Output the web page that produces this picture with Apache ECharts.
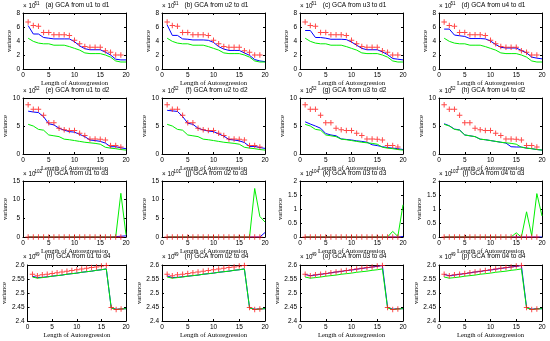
<!DOCTYPE html>
<html><head><meta charset="utf-8">
<script src="https://cdn.jsdelivr.net/npm/echarts@6/dist/echarts.min.js"></script>
<style>html,body{margin:0;padding:0;background:#fff}#c{width:550px;height:341px}</style>
</head><body><div id="c"></div>
<script>
// ---------- data ----------
const lags = [1,2,3,4,5,6,7,8,9,10,11,12,13,14,15,16,17,18,19,20];

const panelTitles = ['(a) GCA from u1 to d1','(b) GCA from u2 to d1','(c) GCA from u3 to d1','(d) GCA from u4 to d1',
  '(e) GCA from u1 to d2','(f) GCA from u2 to d2','(g) GCA from u3 to d2','(h) GCA from u4 to d2',
  '(i) GCA from u1 to d3','(j) GCA from u2 to d3','(k) GCA from u3 to d3','(l) GCA from u4 to d3',
  '(m) GCA from u1 to d4','(n) GCA from u2 to d4','(o) GCA from u3 to d4','(p) GCA from u4 to d4'];
const exponents = ['51','51','51','51','52','52','52','52','102','101','104','103','49','49','49','49'];
const yMins = [0,0,0,0, 0,0,0,0, 0,0,0,0, 2.4,2.4,2.4,2.4];
const yMaxs = [8,8,8,8, 10,10,10,10, 15,15,2,2, 2.6,2.6,2.6,2.6];
const yIntervals = [2,2,2,2, 5,5,5,5, 5,5,0.5,0.5, 0.05,0.05,0.05,0.05];

// row 1 (d1)
const redD1 = [6.7,6.2,6.1,5.2,5.2,4.9,4.9,4.9,4.8,4.1,3.6,3.2,3.1,3.1,3.1,2.6,2.4,2.0,2.0];
const greenD1 = [4.4,3.95,3.7,3.6,3.6,3.4,3.4,3.4,3.2,2.95,2.7,2.3,2.2,2.2,2.2,2.0,1.7,1.15,1.0,1.0];
const blueA = [6.2,5.0,5.0,4.5,4.4,4.3,4.3,4.3,4.3,3.9,3.3,2.9,2.75,2.75,2.75,2.4,2.0,1.4,1.3,1.3];
const blueB = [6.3,4.8,4.8,4.3,4.25,4.15,4.15,4.15,4.1,3.8,3.2,2.85,2.65,2.65,2.65,2.3,1.95,1.35,1.15,1.05];
const blueC = [5.5,5.5,4.5,4.5,4.4,4.25,4.25,4.25,4.2,3.85,3.4,2.95,2.75,2.75,2.75,2.45,2.05,1.5,1.4,1.3];
const blueD = [5.7,5.7,4.85,4.75,4.65,4.35,4.35,4.35,4.3,4.0,3.5,3.1,3.0,3.0,3.0,2.65,2.3,1.7,1.55,1.45];

// row 2 (d2)
const redD2 = [8.8,8.0,8.0,6.9,5.6,5.6,4.6,4.35,4.2,4.2,3.7,3.3,2.7,2.7,2.65,2.5,1.5,1.5,1.25];
const greenD2 = [5.3,5.0,4.4,4.25,3.4,3.25,3.1,2.65,2.55,2.4,2.25,2.1,2.0,1.9,1.75,1.2,1.05,0.95,0.8,0.7];
const blueE = [7.65,7.5,7.4,6.65,5.4,5.2,4.6,4.25,4.0,3.9,3.5,3.1,2.5,2.4,2.25,1.95,1.3,1.3,1.1,0.95];
const blueF = [7.8,7.7,7.6,6.7,5.5,5.3,4.6,4.3,4.1,4.0,3.6,3.2,2.6,2.5,2.35,2.05,1.35,1.35,1.15,1.0];
const blueG = [5.75,5.35,5.0,4.6,3.65,3.4,3.25,2.7,2.6,2.5,2.35,2.25,2.1,1.65,1.5,1.3,1.15,1.05,0.95,0.8];
const blueH = [5.4,5.05,4.45,4.3,3.4,3.25,3.1,2.65,2.55,2.4,2.25,2.1,1.95,1.3,1.25,1.25,1.05,0.95,0.8,0.7];

// row 3 (d3)
const redD3 = [0,0,0,0,0,0,0,0,0,0,0,0,0,0,0,0,0,0,0];
const blueI = [0,0,0,0,0,0,0,0,0,0,0,0,0,0,0,0,0,0.1,0.2,0.3];
const greenI = [0,0,0,0,0,0,0,0,0,0,0,0,0,0,0,0,0,0,11.7,0.6];
const blueJ = [0,0,0,0,0,0,0,0,0,0,0,0,0,0,0,0,0,0,0,1.2];
const greenJ = [0,0,0,0,0,0,0,0,0,0,0,0,0,0,0,0,0,13,5.5,4.0];
const blueK = [0,0,0,0,0,0,0,0,0,0,0,0,0,0,0,0,0,0,0,0.02];
const greenK = [0,0,0,0,0,0,0,0,0,0,0,0,0,0,0,0,0,0.2,0.02,1.15];
const blueL = [0,0,0,0,0,0,0,0,0,0,0,0,0,0,0,0,0,0,0,0];
const greenL = [0,0,0,0,0,0,0,0,0,0,0,0,0,0,0.15,0,0.9,0.05,1.55,0.75];

// row 4 (d4)
const redD4 = [2.567,2.562,2.565,2.567,2.570,2.572,2.575,2.578,2.580,2.583,2.586,2.588,2.591,2.593,2.596,2.598,2.448,2.441,2.443];
const greenD4 = [2.557,2.553,2.555,2.557,2.560,2.562,2.564,2.567,2.569,2.571,2.574,2.576,2.578,2.581,2.583,2.586,2.447,2.441,2.443,2.444];
const blueM = [2.560,2.555,2.556,2.558,2.560,2.562,2.564,2.567,2.569,2.571,2.574,2.576,2.578,2.581,2.583,2.586,2.447,2.442,2.443,2.444];
const blueN = [2.561,2.555,2.556,2.558,2.560,2.562,2.564,2.567,2.569,2.571,2.574,2.576,2.578,2.581,2.583,2.586,2.447,2.442,2.443,2.444];
const blueO = [2.566,2.562,2.564,2.567,2.569,2.572,2.575,2.577,2.580,2.582,2.585,2.588,2.590,2.593,2.595,2.598,2.449,2.442,2.444,2.444];
const blueP = [2.566,2.562,2.564,2.567,2.569,2.572,2.575,2.577,2.580,2.582,2.585,2.588,2.590,2.593,2.595,2.598,2.449,2.442,2.444,2.444];

const redSets = [redD1,redD1,redD1,redD1, redD2,redD2,redD2,redD2, redD3,redD3,redD3,redD3, redD4,redD4,redD4,redD4];
const blueSets = [blueA,blueB,blueC,blueD, blueE,blueF,blueG,blueH, blueI,blueJ,blueK,blueL, blueM,blueN,blueO,blueP];
const greenSets = [greenD1,greenD1,greenD1,greenD1, greenD2,greenD2,greenD2,greenD2, greenI,greenJ,greenK,greenL, greenD4,greenD4,greenD4,greenD4];

// ---------- layout ----------
const colLeft = [23, 162, 300, 439];
const rowTop = [13, 98, 181, 265];
const gW = 103, gH = 56;
const yNameGap = [6,6,6,6, 6,6,6,6, 8.5,8.5,12.5,12.5, 13,13,13,13];

const plusSym = 'path://M-1,-0.18 H1 V0.18 H-1 Z M-0.18,-1 H0.18 V1 H-0.18 Z';
const sans = 'Liberation Sans', serif = 'Liberation Serif';
const grids = [], xAxes = [], yAxes = [], series = [], graphics = [];
const pair = arr => arr.map((v, i) => [lags[i], v]);

for (let i = 0; i < 16; i++) {
  const r = Math.floor(i / 4), c = i % 4;
  const L = colLeft[c], T = rowTop[r];
  grids.push({left: L, top: T, width: gW, height: gH, containLabel: false});
  const tick = {show: true, inside: true, length: 2, lineStyle: {color: '#000', width: 1}};
  const line = {show: true, onZero: false, lineStyle: {color: '#000', width: 1}};
  xAxes.push({type: 'value', gridIndex: i, min: 0, max: 20, interval: 5, position: 'bottom',
    axisLine: line, axisTick: tick, splitLine: {show: false},
    axisLabel: {fontSize: 6.5, fontFamily: sans, color: '#000', margin: 3},
    name: 'Length of Autoregression', nameLocation: 'middle', nameGap: 9,
    nameTextStyle: {fontSize: 6.5, fontFamily: serif, color: '#000'}});
  xAxes.push({type: 'value', gridIndex: i, min: 0, max: 20, interval: 5, position: 'top',
    axisLine: line, axisTick: tick, axisLabel: {show: false}, splitLine: {show: false}});
  yAxes.push({type: 'value', gridIndex: i, min: yMins[i], max: yMaxs[i], interval: yIntervals[i], position: 'left',
    axisLine: line, axisTick: tick, splitLine: {show: false},
    axisLabel: {fontSize: 6.5, fontFamily: sans, color: '#000', margin: 3},
    name: 'variance', nameLocation: 'middle', nameGap: yNameGap[i], nameRotate: 90,
    nameTextStyle: {fontSize: 6.5, fontFamily: serif, color: '#000'}});
  yAxes.push({type: 'value', gridIndex: i, min: yMins[i], max: yMaxs[i], interval: yIntervals[i], position: 'right',
    axisLine: line, axisTick: tick, axisLabel: {show: false}, splitLine: {show: false}});

  series.push({type: 'line', xAxisIndex: 2*i, yAxisIndex: 2*i, data: pair(blueSets[i]), showSymbol: false,
    symbol: 'none', lineStyle: {color: '#0000ff', width: 1}, z: 3, animation: false, silent: true});
  series.push({type: 'line', xAxisIndex: 2*i, yAxisIndex: 2*i, data: pair(greenSets[i]), showSymbol: false,
    symbol: 'none', lineStyle: {color: '#00ee00', width: 1}, z: 4, animation: false, silent: true});
  series.push({type: 'scatter', xAxisIndex: 2*i, yAxisIndex: 2*i, data: pair(redSets[i]), symbol: plusSym,
    symbolSize: 5.5, itemStyle: {color: '#ff1a1a'}, z: 5, animation: false, silent: true});

  const ty = T - (r === 3 ? 8.5 : 7.3);
  graphics.push({type: 'text', x: L + gW / 2 + 3, y: ty,
    style: {text: panelTitles[i], font: '6.5px "Liberation Sans"', fill: '#000', textAlign: 'center', textVerticalAlign: 'middle'}});
  graphics.push({type: 'text', x: L, y: ty + 0.3,
    style: {text: '× 10', font: '6.3px "Liberation Sans"', fill: '#000', textAlign: 'left', textVerticalAlign: 'middle'}});
  graphics.push({type: 'text', x: L + 11.5, y: ty - 2.2,
    style: {text: exponents[i], font: '4.5px "Liberation Sans"', fill: '#000', textAlign: 'left', textVerticalAlign: 'middle'}});
}

const chart = echarts.init(document.getElementById('c'), null, {renderer: 'canvas'});
chart.setOption({animation: false, backgroundColor: '#fff', grid: grids, xAxis: xAxes, yAxis: yAxes, series: series, graphic: graphics});
</script>
</body></html>
